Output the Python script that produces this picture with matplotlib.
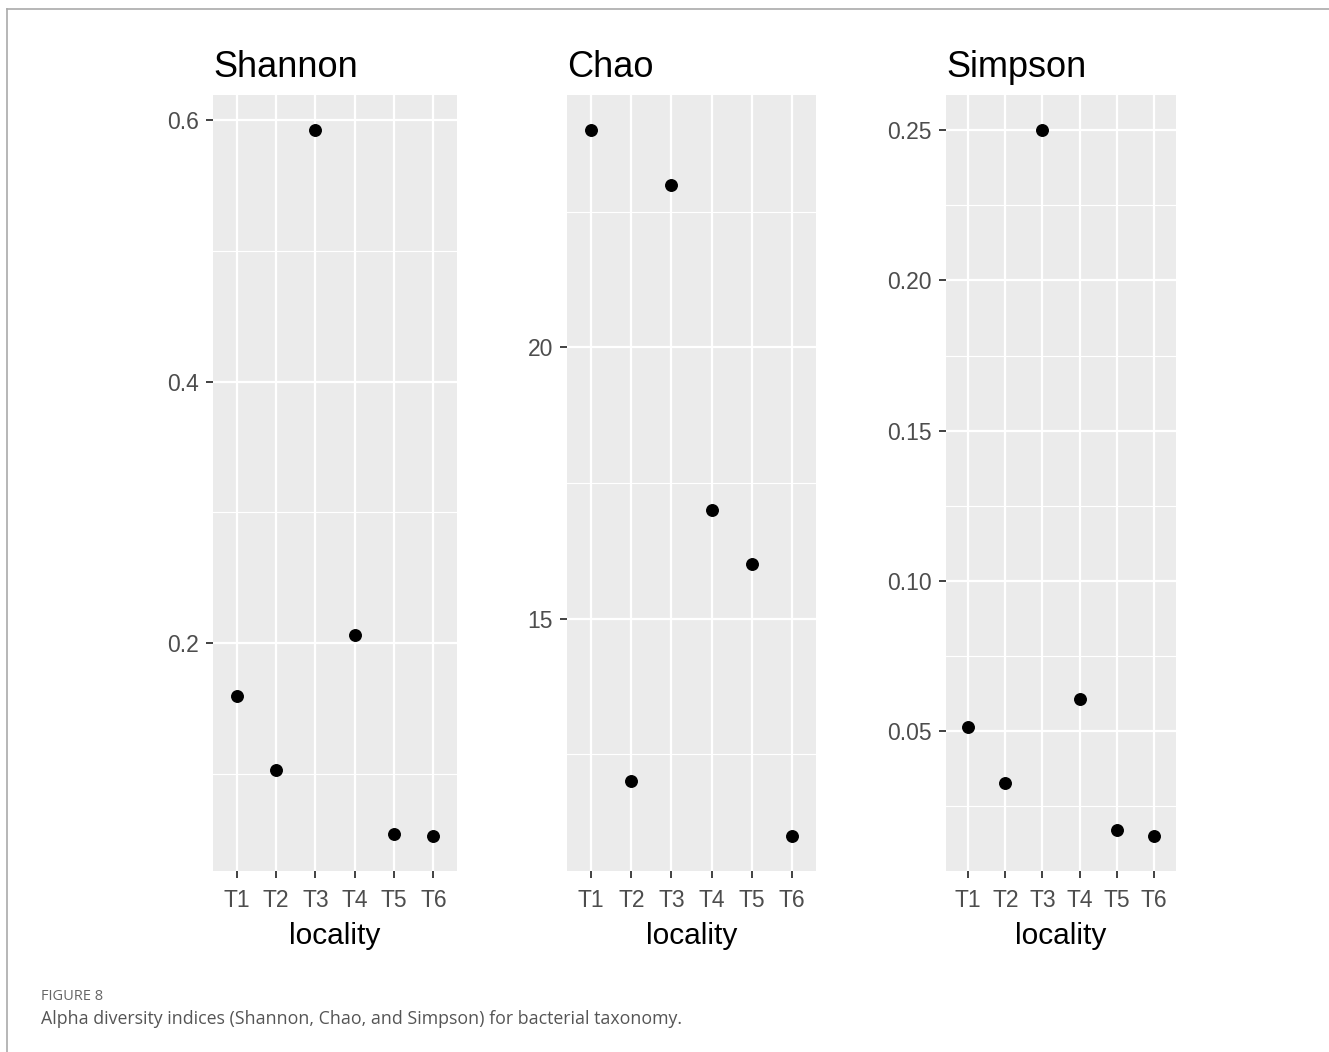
import matplotlib
matplotlib.use("Agg")
import matplotlib.pyplot as plt
from matplotlib.lines import Line2D
import numpy as np

# Alpha diversity per locality
localities = ["T1", "T2", "T3", "T4", "T5", "T6"]
shannon = [0.160, 0.103, 0.592, 0.206, 0.054, 0.053]
chao = [24, 12, 23, 17, 16, 11]
simpson = [0.0513, 0.0327, 0.250, 0.0606, 0.0171, 0.0151]

shannon_ticks = [0.2, 0.4, 0.6]
chao_ticks = [15, 20]
simpson_ticks = [0.05, 0.10, 0.15, 0.20, 0.25]

plt.rcParams["font.family"] = ["Liberation Sans", "DejaVu Sans"]

W, H = 1329, 1052
fig = plt.figure(figsize=(W / 100, H / 100), dpi=100)

panels = [
    ("Shannon", shannon, shannon_ticks, "{:.1f}", 213, 457),
    ("Chao", chao, chao_ticks, "{:.0f}", 567, 816),
    ("Simpson", simpson, simpson_ticks, "{:.2f}", 946, 1176),
]

top_px, bot_px = 95, 871
x = np.arange(len(localities))

for title, vals, ticks, fmt, x0, x1 in panels:
    ax = fig.add_axes([x0 / W, 1 - bot_px / H, (x1 - x0) / W, (bot_px - top_px) / H])
    ax.set_facecolor("#EBEBEB")
    for s in ax.spines.values():
        s.set_visible(False)

    vmin, vmax = min(vals), max(vals)
    pad = 0.05 * (vmax - vmin)
    ax.set_ylim(vmin - pad, vmax + pad)
    ax.set_xlim(-0.6, len(localities) - 0.4)

    step = ticks[1] - ticks[0]
    minor = np.arange(ticks[0] - step * 2.5, ticks[-1] + step * 2, step)
    lo, hi = ax.get_ylim()
    minor = [m for m in minor if lo < m < hi]
    ax.set_yticks(ticks)
    ax.set_yticklabels([fmt.format(t) for t in ticks])
    ax.set_yticks(minor, minor=True)
    ax.set_xticks(x)
    ax.set_xticklabels(localities)

    ax.grid(True, which="major", color="white", linewidth=1.6)
    ax.grid(True, which="minor", axis="y", color="white", linewidth=0.8)
    ax.set_axisbelow(True)

    ax.tick_params(axis="both", which="major", length=5, width=1.3,
                   color="#333333", labelcolor="#4D4D4D", labelsize=16.5)
    ax.tick_params(axis="y", which="major", pad=5)
    ax.tick_params(axis="x", which="major", pad=8)
    ax.tick_params(axis="y", which="minor", length=0)

    ax.plot(x, vals, "o", color="black", markersize=8.3, zorder=3)

    ax.set_xlabel("locality", fontsize=21.5, color="black", labelpad=7)
    ax.set_title(title, loc="left", fontsize=26, color="black", pad=13)

# caption area
fig.text(41 / W, 1 - 996 / H, "FIGURE 8", fontsize=10.5, color="#666666",
         family=["Open Sans", "DejaVu Sans"], va="center", ha="left")
fig.text(41 / W, 1 - 1019 / H,
         "Alpha diversity indices (Shannon, Chao, and Simpson) for bacterial taxonomy.",
         fontsize=12.8, color="#555555", family=["Open Sans", "DejaVu Sans"],
         va="center", ha="left")

# frame lines along top and left edges
fig.add_artist(Line2D([7 / W, 1], [1 - 9 / H, 1 - 9 / H], color="#AAAAAA", linewidth=1.2))
fig.add_artist(Line2D([7 / W, 7 / W], [0, 1 - 9 / H], color="#AAAAAA", linewidth=1.2))

fig.savefig("out.png", dpi=100, facecolor="white")
